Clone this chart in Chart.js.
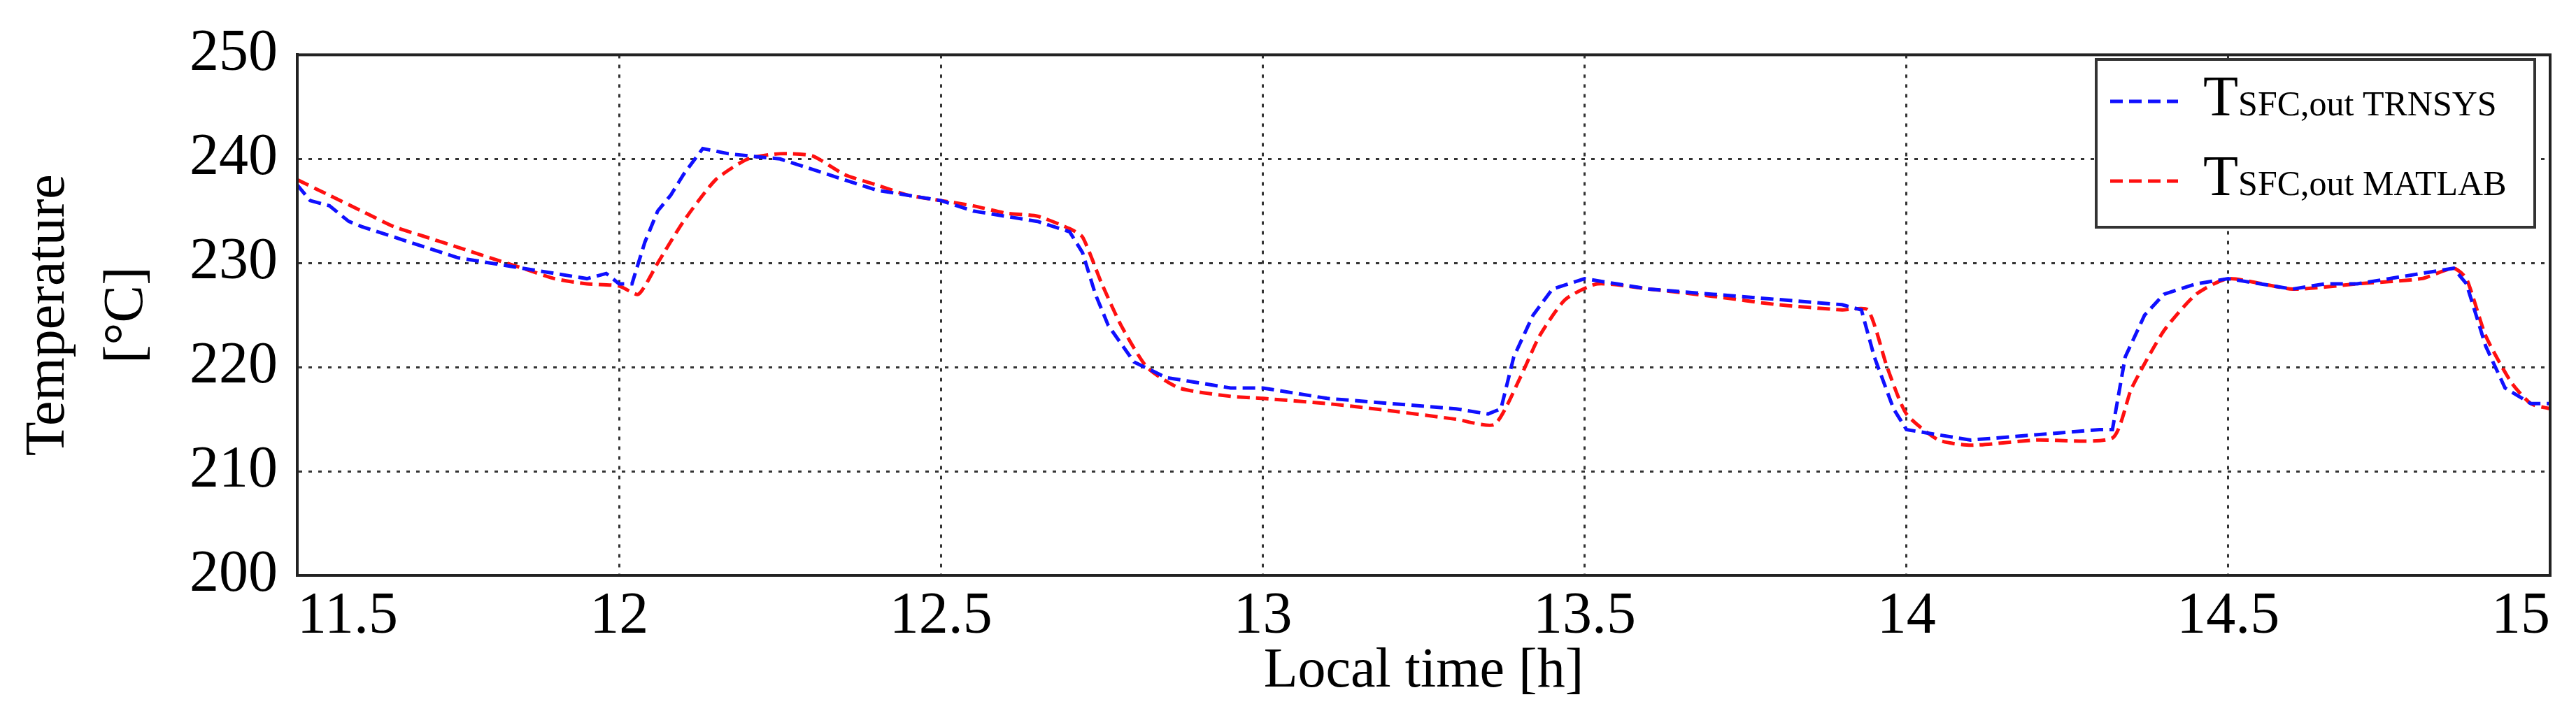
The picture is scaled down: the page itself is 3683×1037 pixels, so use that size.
<!DOCTYPE html>
<html>
<head>
<meta charset="utf-8">
<script src="https://cdn.jsdelivr.net/npm/chart.js@4/dist/chart.umd.min.js"></script>
<style>
  html, body { margin:0; padding:0; background:#fff; }
  canvas { display:block; }
</style>
</head>
<body>
<canvas id="chart" width="3683" height="1037"></canvas>
<script>
// ===== Data =====
const trnsysTime = [11.5,11.52,11.55,11.58,11.6,11.65,11.7,11.75,11.8,11.85,11.9,11.95,11.98,12.0,12.02,12.04,12.06,12.08,12.1,12.13,12.17,12.2,12.25,12.3,12.35,12.4,12.45,12.5,12.55,12.6,12.65,12.7,12.72,12.74,12.76,12.8,12.85,12.9,12.95,13.0,13.1,13.2,13.3,13.35,13.37,13.39,13.42,13.45,13.5,13.55,13.6,13.7,13.8,13.9,13.93,13.95,13.98,14.0,14.05,14.1,14.2,14.3,14.32,14.34,14.37,14.4,14.45,14.5,14.55,14.6,14.65,14.7,14.8,14.85,14.87,14.9,14.93,14.97,15.0];
const trnsysTemp = [237.5,236,235.5,234,233.5,232.5,231.5,230.5,230,229.5,229,228.5,229,228,228,232,235,236.5,238.5,241,240.5,240.3,240,239,238,237,236.5,236,235,234.5,234,233,231,227,224,220.5,219,218.5,218,218,217,216.5,216,215.5,216,221,225,227.5,228.5,228,227.5,227,226.5,226,225.5,221,216,214,213.5,213,213.5,214,214,221,225,227,228,228.5,228,227.5,228,228,229,229.5,228,222,218,216.5,216.5];

const matlabTime = [11.5,11.55,11.6,11.65,11.7,11.75,11.8,11.85,11.9,11.95,12.0,12.03,12.06,12.1,12.15,12.2,12.25,12.3,12.35,12.4,12.45,12.5,12.55,12.6,12.65,12.7,12.72,12.75,12.78,12.82,12.87,12.95,13.0,13.1,13.2,13.3,13.36,13.4,13.43,13.47,13.52,13.6,13.7,13.8,13.9,13.94,13.97,14.0,14.05,14.1,14.2,14.32,14.35,14.4,14.45,14.5,14.6,14.7,14.8,14.85,14.87,14.9,14.94,14.97,15.0];
const matlabTemp = [238,236.5,235,233.5,232.5,231.5,230.5,229.5,228.5,228,227.8,227,230,234,238,240,240.5,240.3,238.5,237.5,236.5,236,235.5,234.8,234.5,233.3,232.5,228,224,220,218,217.2,217,216.5,215.8,215,214.5,219,223,226.5,228,227.5,226.8,226,225.5,225.5,220,215.5,213,212.5,213,213.2,218,223.5,227,228.5,227.5,228,228.5,229.5,228.5,223,218.5,216.5,216];

const seriesNames = ['TRNSYS', 'MATLAB'];
const seriesColors = ['#1010ff', '#ff1010'];
const xTicks = [11.5, 15, 0.5];   // min, max, step
const yTicks = [200, 250, 10];

const FONT = "'Liberation Serif', 'DejaVu Serif', serif";
Chart.defaults.font.family = FONT;

function toPoints(xs, ys) { return xs.map((x, i) => ({ x: x, y: ys[i] })); }

// ===== Legend box drawn inside the plot (with subscripts) =====
const boxLegend = {
  id: 'boxLegend',
  afterDraw(chart) {
    const ctx = chart.ctx;
    ctx.save();
    ctx.fillStyle = '#fff';
    ctx.fillRect(2997, 85, 627, 240);
    ctx.strokeStyle = '#333';
    ctx.lineWidth = 4;
    ctx.strokeRect(2997, 85, 627, 240);
    const rows = [145, 259];
    rows.forEach((y, i) => {
      ctx.strokeStyle = seriesColors[i];
      ctx.lineWidth = 5;
      ctx.setLineDash([18, 9]);
      ctx.beginPath(); ctx.moveTo(3017, y); ctx.lineTo(3114, y); ctx.stroke();
      ctx.setLineDash([]);
      ctx.fillStyle = '#000';
      ctx.textBaseline = 'alphabetic';
      ctx.font = '82px ' + FONT;
      ctx.fillText('T', 3150, y + 20);
      const w = ctx.measureText('T').width;
      ctx.font = '50px ' + FONT;
      ctx.fillText('SFC,out ' + seriesNames[i], 3150 + w, y + 20);
    });
    ctx.restore();
  }
};

new Chart(document.getElementById('chart').getContext('2d'), {
  type: 'line',
  data: {
    datasets: [
      { label: seriesNames[0], data: toPoints(trnsysTime, trnsysTemp), borderColor: seriesColors[0],
        borderWidth: 5, borderDash: [18, 9], pointRadius: 0, fill: false, tension: 0 },
      { label: seriesNames[1], data: toPoints(matlabTime, matlabTemp), borderColor: seriesColors[1],
        borderWidth: 5, borderDash: [18, 9], pointRadius: 0, fill: false, tension: 0.2 }
    ]
  },
  options: {
    responsive: false,
    devicePixelRatio: 1,
    animation: false,
    layout: { padding: { top: 45, right: 37, left: 0, bottom: 28 } },
    plugins: { legend: { display: false }, tooltip: { enabled: false } },
    scales: {
      x: {
        type: 'linear', min: xTicks[0], max: xTicks[1],
        afterFit: s => { s.height = 186; },
        ticks: { stepSize: xTicks[2], align: 'inner', padding: 10, color: '#000',
                 callback: v => String(v),
                 font: { family: FONT, size: 84 } },
        grid: { color: '#333', lineWidth: 3, tickLength: 0 },
        border: { color: '#222', width: 4, dash: [5, 9] },
        title: { display: true, text: 'Local time [h]', color: '#000', padding: 0,
                 font: { family: FONT, size: 80 } }
      },
      y: {
        min: yTicks[0], max: yTicks[1],
        afterFit: s => { s.width = 425; },
        ticks: { stepSize: yTicks[2], padding: 28, color: '#000',
                 font: { family: FONT, size: 84 } },
        grid: { color: '#333', lineWidth: 3, tickLength: 0 },
        border: { color: '#222', width: 4, dash: [5, 9] },
        title: { display: true, text: ['Temperature', '[°C]'], color: '#000',
                 padding: { top: 14, bottom: 0 },
                 font: { family: FONT, size: 80, lineHeight: 1.4 } }
      }
    }
  },
  plugins: [boxLegend, {
    id: 'frame',
    afterDatasetsDraw(chart) {
      const a = chart.chartArea, ctx = chart.ctx;
      ctx.save();
      ctx.strokeStyle = '#222';
      ctx.lineWidth = 4;
      ctx.strokeRect(a.left, a.top, a.right - a.left, a.bottom - a.top);
      ctx.restore();
    }
  }]
});
</script>
</body>
</html>
